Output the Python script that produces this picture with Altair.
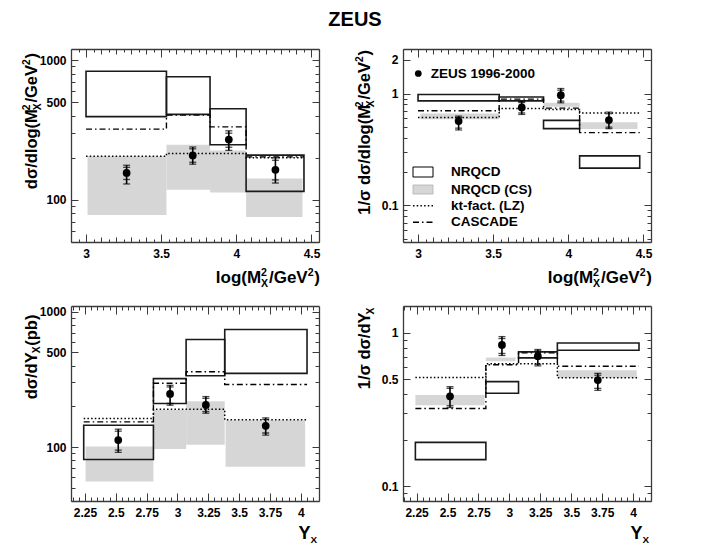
import json
import altair as alt
import pandas as pd

# ---------------- data ----------------
# Top left: d sigma / d log(M_X^2/GeV^2)
TL_EDGES = [3.0, 3.535, 3.825, 4.065, 4.45]
TL_NRQCD_LO = [394, 409, 248, 115]
TL_NRQCD_HI = [832, 759, 449, 209]
TL_CS_X1 = [3.01, 3.535, 3.825, 4.065]
TL_CS_X2 = [3.535, 3.825, 4.065, 4.44]
TL_CS_LO = [78, 118, 113, 75.5]
TL_CS_HI = [205, 248, 226, 142]
TL_KT = [205, 215, 215, 200]
TL_CASCADE = [321, 404, 333, 203]
TL_PX = [3.27, 3.71, 3.95, 4.26]
TL_PY = [156, 208, 270, 164]
TL_TOT_HI = [177, 239, 312, 200]
TL_TOT_LO = [130, 180, 226, 132]
TL_STAT_HI = [171, 232, 300, 192]
TL_STAT_LO = [140, 186, 238, 139]

# Top right: 1/sigma d sigma / d log(M_X^2/GeV^2)
TR_EDGES = [3.0, 3.54, 3.835, 4.075, 4.475]
TR_NRQCD_LO = [0.86, 0.86, 0.485, 0.215]
TR_NRQCD_HI = [0.98, 0.93, 0.575, 0.277]
TR_CS_X1 = [3.015, 3.835, 4.075]
TR_CS_X2 = [3.54, 4.075, 4.46]
TR_CS_LO = [0.587, 0.76, 0.481]
TR_CS_HI = [0.664, 0.825, 0.552]
TR_KT = [0.61, 0.735, 0.72, 0.67]
TR_CASCADE = [0.70, 0.89, 0.74, 0.447]
TR_PX = [3.27, 3.69, 3.95, 4.27]
TR_PY = [0.567, 0.75, 0.966, 0.579]
TR_TOT_HI = [0.628, 0.849, 1.108, 0.682]
TR_TOT_LO = [0.472, 0.65, 0.826, 0.485]
TR_STAT_HI = [0.61, 0.83, 1.07, 0.66]
TR_STAT_LO = [0.49, 0.67, 0.855, 0.50]

# Bottom left: d sigma / d Y_X (pb)
BL_EDGES = [2.24, 2.805, 3.07, 3.383, 4.05]
BL_NRQCD_LO = [81, 210, 336, 350]
BL_NRQCD_HI = [145, 320, 622, 738]
BL_CS_X1 = [2.255, 2.805, 3.07, 3.39]
BL_CS_X2 = [2.805, 3.07, 3.383, 4.035]
BL_CS_LO = [55.6, 96.7, 104, 71.6]
BL_CS_HI = [101, 188, 218, 158]
BL_KT = [162.6, 190, 190, 159]
BL_CASCADE = [153.5, 296, 360, 290]
BL_PX = [2.52, 2.94, 3.23, 3.715]
BL_PY = [112.6, 246.6, 204.7, 143.6]
BL_TOT_HI = [135.6, 285.7, 236, 164.5]
BL_TOT_LO = [91.4, 203.8, 177.8, 122.5]
BL_STAT_HI = [131, 278, 229, 160]
BL_STAT_LO = [95, 210, 183, 127]

# Bottom right: 1/sigma d sigma / d Y_X
BR_EDGES = [2.24, 2.81, 3.074, 3.388, 4.048]
BR_NRQCD_LO = [0.149, 0.404, 0.688, 0.771]
BR_NRQCD_HI = [0.193, 0.481, 0.753, 0.861]
BR_CS_X1 = [2.24, 2.81, 3.388]
BR_CS_X2 = [2.80, 3.05, 4.03]
BR_CS_LO = [0.337, 0.654, 0.51]
BR_CS_HI = [0.394, 0.691, 0.571]
BR_KT = [0.513, 0.63, 0.63, 0.51]
BR_CASCADE = [0.321, 0.62, 0.742, 0.607]
BR_PX = [2.52, 2.94, 3.23, 3.715]
BR_PY = [0.386, 0.836, 0.705, 0.493]
BR_TOT_HI = [0.446, 0.947, 0.78, 0.545]
BR_TOT_LO = [0.326, 0.713, 0.61, 0.422]
BR_STAT_HI = [0.435, 0.92, 0.765, 0.53]
BR_STAT_LO = [0.335, 0.735, 0.625, 0.435]

# axis ticks / labels
XM_TICKS = [round(2.9 + 0.05 * i, 2) for i in range(34)]
XM_LABELS = [3, 3.5, 4, 4.5]
XY_TICKS = [round(2.15 + 0.05 * i, 2) for i in range(40)]
XY_LABELS = [2.25, 2.5, 2.75, 3, 3.25, 3.5, 3.75, 4]
TL_YT = [50, 60, 70, 80, 90] + [100 * k for k in range(1, 10)] + [1000]
TL_YL = [100, 500, 1000]
TR_YT = [round(0.01 * k, 2) for k in range(5, 10)] + [round(0.1 * k, 1) for k in range(1, 10)] + [1, 2]
TR_YL = [0.1, 1, 2]
BL_YT = [40, 50, 60, 70, 80, 90] + [100 * k for k in range(1, 10)] + [1000]
BL_YL = [100, 500, 1000]
BR_YT = [0.08, 0.09] + [round(0.1 * k, 1) for k in range(1, 10)] + [1]
BR_YL = [0.1, 0.5, 1]

LEGEND_LABELS = ["NRQCD", "NRQCD (CS)", "kt-fact. (LZ)", "CASCADE"]

# ---------------- style / layout ----------------
W, H = 694, 536
FONT = "Liberation Sans"
FRAME = "#3a3a3a"
GRAY = "#d6d6d6"
BOX = "#1a1a1a"
ONE = pd.DataFrame({"k": [0]})

TL_F = (63, 311, 41, 234)
TR_F = (395, 643, 41, 234)
BL_F = (63, 311, 298, 493)
BR_F = (395, 643, 298, 493)

XCOND_M = {"condition": [
    {"test": "abs(datum.value*2-round(datum.value*2))<0.001", "value": 8},
    {"test": "abs(datum.value*10-round(datum.value*10))<0.001", "value": 5}], "value": 3}
XCOND_Y = {"condition": [
    {"test": "abs(datum.value*4-round(datum.value*4))<0.001", "value": 8}], "value": 4}


def mk_axis(orient, offset, values, labels=False, domain=False, tick_size=None, pad=None):
    kw = dict(orient=orient, offset=offset, values=values, title=None, grid=False, zindex=1,
              domain=domain, domainColor=FRAME, domainWidth=1.3, tickColor=FRAME, tickWidth=1)
    if labels:
        kw.update(labels=True, ticks=False, tickSize=0, labelExpr="'' + datum.value", labelFont=FONT,
                  labelFontSize=12, labelFontWeight="bold", labelColor="black",
                  labelPadding=pad, labelFlush=False, labelOverlap=False)
    else:
        kw.update(labels=False, ticks=True, tickSize=tick_size)
    return alt.Axis(**kw)


def panel(frame, xdom, ydom, xt, xl, xcond, yt, yl, edges, nlo, nhi, cx1, cx2, clo, chi,
          kt, cas, px, py, thi, tlo, shi, slo):
    x0, x1, y0, y1 = frame
    xs = alt.Scale(type="linear", domain=xdom, range=[x0, x1], nice=False, zero=False)
    ys = alt.Scale(type="log", domain=ydom, range=[y1, y0], nice=False)
    ysize = {"condition": {"test": "indexof(%s, datum.value) >= 0" % json.dumps(yl), "value": 7},
             "value": 4}
    ax_xl = mk_axis("bottom", y1 - H, xl, labels=True, domain=True, pad=6)
    ax_xi = mk_axis("top", -y1, xt, tick_size=xcond)
    ax_xt = mk_axis("bottom", y0 - H, xt, domain=True, tick_size=xcond)
    ax_yl = mk_axis("left", -x0, yl, labels=True, domain=True, pad=5)
    ax_yi = mk_axis("right", x0 - W, yt, tick_size=ysize)
    ax_yr = mk_axis("left", -x1, yt, domain=True, tick_size=ysize)

    cs = pd.DataFrame({"x1": cx1, "x2": cx2, "lo": clo, "hi": chi})
    gray = alt.Chart(cs).mark_rect(color=GRAY, strokeWidth=0).encode(
        x=alt.X("x1:Q", scale=xs, axis=ax_xl), x2="x2:Q",
        y=alt.Y("lo:Q", scale=ys, axis=ax_yl), y2="hi:Q")
    nr = pd.DataFrame({"x1": edges[:-1], "x2": edges[1:], "lo": nlo, "hi": nhi})
    box = alt.Chart(nr).mark_rect(fillOpacity=0, stroke=BOX, strokeWidth=1.6).encode(
        x=alt.X("x1:Q", scale=xs, axis=ax_xi), x2="x2:Q",
        y=alt.Y("lo:Q", scale=ys, axis=ax_yi), y2="hi:Q")
    ktd = pd.DataFrame({"x": edges, "y": kt + [kt[-1]]})
    ktl = alt.Chart(ktd).mark_line(interpolate="step-after", color="black", strokeWidth=1.5,
                                   strokeDash=[1.5, 2.2]).encode(
        x=alt.X("x:Q", scale=xs, axis=ax_xt), y=alt.Y("y:Q", scale=ys, axis=ax_yr))
    cad = pd.DataFrame({"x": edges, "y": cas + [cas[-1]]})
    cal = alt.Chart(cad).mark_line(interpolate="step-after", color="black", strokeWidth=1.4,
                                   strokeDash=[6, 3, 1.5, 3]).encode(
        x=alt.X("x:Q", scale=xs, axis=None), y=alt.Y("y:Q", scale=ys, axis=None))
    pts = pd.DataFrame({"x": px, "y": py, "hi": thi, "lo": tlo})
    err = alt.Chart(pts).mark_rule(color="black", strokeWidth=1.6).encode(
        x=alt.X("x:Q", scale=xs, axis=None), y=alt.Y("lo:Q", scale=ys, axis=None), y2="hi:Q")
    capd = pd.DataFrame({"x": px * 4, "y": thi + tlo + shi + slo})
    caps = alt.Chart(capd).mark_tick(orient="horizontal", color="black", size=7, thickness=1.3).encode(
        x=alt.X("x:Q", scale=xs, axis=None), y=alt.Y("y:Q", scale=ys, axis=None))
    dots = alt.Chart(pts).mark_point(filled=True, shape="circle", size=60, color="black", opacity=1).encode(
        x=alt.X("x:Q", scale=xs, axis=None), y=alt.Y("y:Q", scale=ys, axis=None))
    return alt.layer(gray, box, ktl, cal, err, caps, dots).resolve_axis(x="independent", y="independent")


# ---------------- rich text helpers ----------------
CW = {" ": 278, "(": 333, ")": 333, "/": 278, ".": 278, "-": 333, "σ": 620}
for ch in "0123456789":
    CW[ch] = 556
CW.update(dict(a=556, b=611, c=556, d=611, e=556, f=333, g=611, h=611, i=278, j=278, k=556, l=278,
               m=889, n=611, o=611, p=611, q=611, r=389, s=556, t=333, u=611, v=556, w=778, x=556,
               y=556, z=500))
CW.update(dict(A=722, B=722, C=722, D=722, E=667, F=611, G=778, H=722, I=278, K=722, L=611, M=833,
               N=722, O=778, P=667, Q=778, R=722, S=667, T=611, U=722, V=667, W=944, X=667, Y=667, Z=611))


def tw(s, size):
    return sum(CW.get(c, 580) for c in s) * size / 1000.0


def txt(t, x, y, size, align="left", baseline="alphabetic", angle=0):
    return alt.Chart(ONE).mark_text(text=t, font=FONT, fontSize=size, fontWeight="bold", align=align,
                                    baseline=baseline, angle=angle, color="black").encode(
        x=alt.value(x), y=alt.value(y))


def rich(pieces, ax, ay, size, rotated=False, small_ratio=0.62):
    """Text ending at (ax, ay): right edge for horizontal, top end for rotated."""
    small = size * small_ratio
    advs = []
    for t, k in pieces:
        if k == "n":
            advs.append(tw(t, size))
        elif k == "supsub":
            advs.append(max(tw(t[0], small), tw(t[1], small)) + 0.8)
        else:
            advs.append(tw(t, small) + 0.8)
    pos = -sum(advs)
    out = []
    for (t, k), a in zip(pieces, advs):
        if k == "n":
            items = [(t, size, 0.0)]
        elif k == "sup":
            items = [(t, small, -0.42 * size)]
        elif k == "sub":
            items = [(t, small, 0.24 * size)]
        else:
            items = [(t[0], small, -0.42 * size), (t[1], small, 0.26 * size)]
        for s, fs, perp in items:
            if rotated:
                out.append(txt(s, ax + perp, ay - pos, fs, angle=270))
            else:
                out.append(txt(s, ax + pos, ay + perp, fs))
        pos += a
    return out


LOGM = [("log(M", "n"), (("2", "X"), "supsub"), ("/GeV", "n"), ("2", "sup"), (")", "n")]
texts = [txt("ZEUS", 347, 18, 20, align="center")]
# y titles
texts += rich([("dσ/dlog(M", "n"), (("2", "X"), "supsub"), ("/GeV", "n"), ("2", "sup"), (")", "n")],
              28.5, 45, 16.5, rotated=True)
texts += rich([("1/σ dσ/dlog(M", "n"), (("2", "X"), "supsub"), ("/GeV", "n"), ("2", "sup"), (")", "n")],
              362, 42, 16.5, rotated=True)
texts += rich([("dσ/dY", "n"), ("X", "sub"), (" (pb)", "n")], 28.5, 302, 16.5, rotated=True)
texts += rich([("1/σ dσ/dY", "n"), ("X", "sub")], 362, 299, 16.5, rotated=True)
# x titles
texts += rich(LOGM, 312, 275, 17)
texts += rich(LOGM, 644, 275, 17)
texts += rich([("Y", "n"), ("X", "sub")], 310, 531, 18, small_ratio=0.55)
texts += rich([("Y", "n"), ("X", "sub")], 642, 531, 18, small_ratio=0.55)

# legend (top-right panel)
texts.append(alt.Chart(ONE).mark_point(filled=True, shape="circle", size=45, color="black", opacity=1)
             .encode(x=alt.value(410.3), y=alt.value(65.5)))
texts.append(txt("ZEUS 1996-2000", 422.7, 66, 13.5, baseline="middle"))
texts.append(alt.Chart(ONE).mark_rect(fillOpacity=0, stroke="black", strokeWidth=1)
             .encode(x=alt.value(405), x2=alt.value(425), y=alt.value(159), y2=alt.value(169)))
texts.append(alt.Chart(ONE).mark_rect(color=GRAY, stroke="#b0b0b0", strokeWidth=0.8)
             .encode(x=alt.value(405), x2=alt.value(425), y=alt.value(177), y2=alt.value(186)))
texts.append(alt.Chart(ONE).mark_rule(color="black", strokeWidth=1.5, strokeDash=[1.5, 2.2])
             .encode(x=alt.value(405), x2=alt.value(425), y=alt.value(197.7)))
texts.append(alt.Chart(ONE).mark_rule(color="black", strokeWidth=1.4, strokeDash=[6, 3, 1.5, 3])
             .encode(x=alt.value(405), x2=alt.value(425), y=alt.value(214.3)))
for lab, yy in zip(LEGEND_LABELS, [164, 182, 197.7, 214.3]):
    texts.append(txt(lab, 443, yy, 13.5, baseline="middle"))

p_tl = panel(TL_F, [2.9, 4.55], [50, 1200], XM_TICKS, XM_LABELS, XCOND_M, TL_YT, TL_YL,
             TL_EDGES, TL_NRQCD_LO, TL_NRQCD_HI, TL_CS_X1, TL_CS_X2, TL_CS_LO, TL_CS_HI,
             TL_KT, TL_CASCADE, TL_PX, TL_PY, TL_TOT_HI, TL_TOT_LO, TL_STAT_HI, TL_STAT_LO)
p_tr = panel(TR_F, [2.9, 4.55], [0.047, 2.5], XM_TICKS, XM_LABELS, XCOND_M, TR_YT, TR_YL,
             TR_EDGES, TR_NRQCD_LO, TR_NRQCD_HI, TR_CS_X1, TR_CS_X2, TR_CS_LO, TR_CS_HI,
             TR_KT, TR_CASCADE, TR_PX, TR_PY, TR_TOT_HI, TR_TOT_LO, TR_STAT_HI, TR_STAT_LO)
p_bl = panel(BL_F, [2.137, 4.147], [40, 1100], XY_TICKS, XY_LABELS, XCOND_Y, BL_YT, BL_YL,
             BL_EDGES, BL_NRQCD_LO, BL_NRQCD_HI, BL_CS_X1, BL_CS_X2, BL_CS_LO, BL_CS_HI,
             BL_KT, BL_CASCADE, BL_PX, BL_PY, BL_TOT_HI, BL_TOT_LO, BL_STAT_HI, BL_STAT_LO)
p_br = panel(BR_F, [2.14, 4.145], [0.08, 1.5], XY_TICKS, XY_LABELS, XCOND_Y, BR_YT, BR_YL,
             BR_EDGES, BR_NRQCD_LO, BR_NRQCD_HI, BR_CS_X1, BR_CS_X2, BR_CS_LO, BR_CS_HI,
             BR_KT, BR_CASCADE, BR_PX, BR_PY, BR_TOT_HI, BR_TOT_LO, BR_STAT_HI, BR_STAT_LO)

chart = alt.layer(p_tl, p_tr, p_bl, p_br, *texts).resolve_scale(
    x="independent", y="independent").resolve_axis(x="independent", y="independent").properties(
    width=W, height=H, padding=0, autosize=alt.AutoSizeParams(type="none"), background="white"
).configure_view(stroke=None)

chart.save("out.html", embed_options={"renderer": "svg", "actions": False})
